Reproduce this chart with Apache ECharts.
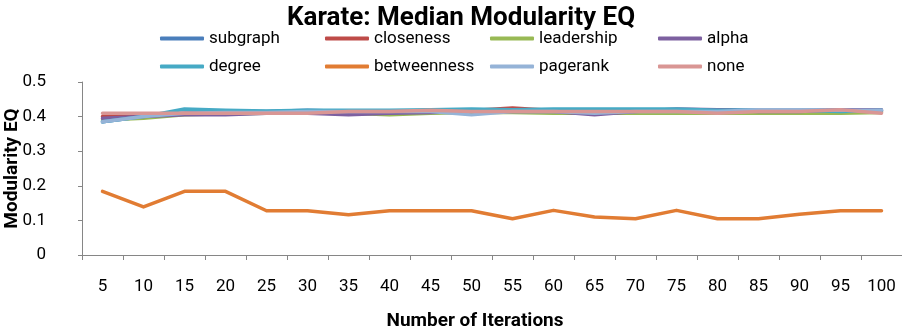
<!DOCTYPE html>
<html>
<head>
<meta charset="utf-8">
<script src="https://cdn.jsdelivr.net/npm/echarts@6/dist/echarts.min.js"></script>
<style>
html, body { margin: 0; padding: 0; background: #fff; }
#chart { width: 902px; height: 329px; }
</style>
</head>
<body>
<div id="chart"></div>
<script>
// 数据
var iterations = ['5', '10', '15', '20', '25', '30', '35', '40', '45', '50', '55', '60', '65', '70', '75', '80', '85', '90', '95', '100'];
var subgraph    = [0.385, 0.400, 0.410, 0.415, 0.415, 0.418, 0.415, 0.415, 0.418, 0.418, 0.418, 0.420, 0.420, 0.420, 0.420, 0.420, 0.418, 0.418, 0.420, 0.418];
var closeness   = [0.400, 0.405, 0.410, 0.410, 0.410, 0.412, 0.415, 0.415, 0.415, 0.418, 0.425, 0.418, 0.415, 0.415, 0.418, 0.418, 0.415, 0.415, 0.418, 0.415];
var leadership  = [0.390, 0.395, 0.405, 0.408, 0.410, 0.410, 0.410, 0.405, 0.410, 0.412, 0.412, 0.410, 0.410, 0.410, 0.410, 0.410, 0.410, 0.410, 0.410, 0.412];
var alpha       = [0.395, 0.400, 0.405, 0.405, 0.410, 0.410, 0.405, 0.410, 0.412, 0.415, 0.415, 0.415, 0.405, 0.415, 0.422, 0.420, 0.415, 0.415, 0.420, 0.420];
var degree      = [0.385, 0.400, 0.422, 0.418, 0.416, 0.418, 0.418, 0.418, 0.420, 0.422, 0.420, 0.422, 0.422, 0.422, 0.422, 0.418, 0.418, 0.418, 0.415, 0.418];
var betweenness = [0.184, 0.139, 0.184, 0.184, 0.128, 0.128, 0.116, 0.128, 0.128, 0.128, 0.105, 0.129, 0.110, 0.105, 0.129, 0.105, 0.105, 0.118, 0.128, 0.128];
var pagerank    = [0.385, 0.400, 0.410, 0.412, 0.412, 0.415, 0.415, 0.415, 0.415, 0.405, 0.415, 0.415, 0.410, 0.415, 0.415, 0.415, 0.420, 0.420, 0.418, 0.418];
var none        = [0.410, 0.410, 0.410, 0.410, 0.410, 0.410, 0.415, 0.415, 0.418, 0.415, 0.415, 0.415, 0.415, 0.415, 0.415, 0.410, 0.415, 0.415, 0.420, 0.410];
var yTicks = [0, 0.1, 0.2, 0.3, 0.4, 0.5];

var names = ['subgraph', 'closeness', 'leadership', 'alpha', 'degree', 'betweenness', 'pagerank', 'none'];
var values = [subgraph, closeness, leadership, alpha, degree, betweenness, pagerank, none];
var colors = ['#4A7EBB', '#BE4B48', '#98B954', '#7D60A0', '#46AAC5', '#E17C33', '#95B3D7', '#D99694'];

var font = "Roboto, 'Noto Sans', sans-serif";
var myChart = echarts.init(document.getElementById('chart'));

var series = [];
for (var i = 0; i < names.length; i++) {
	series.push({
		name: names[i],
		type: 'line',
		data: values[i],
		symbol: 'none',
		smooth: false,
		lineStyle: { width: 3.5, color: colors[i], join: 'round', cap: 'round' },
		itemStyle: { color: colors[i] }
	});
}

// 图例: 两行, 每行四列, 每项单独放置
var legendCols = [160, 325, 490, 658];
var legendRows = [30, 58];
var legends = [];
for (var k = 0; k < names.length; k++) {
	legends.push({
		orient: 'horizontal',
		left: legendCols[k % 4],
		top: legendRows[Math.floor(k / 4)],
		padding: 0,
		data: [names[k]],
		itemWidth: 44,
		itemHeight: 4,
		itemGap: 0,
		icon: 'roundRect',
		textStyle: { fontFamily: font, fontSize: 17, color: '#000' }
	});
}

var option = {
	animation: false,
	color: colors,
	title: {
		text: 'Karate: Median Modularity EQ',
		left: 282,
		top: 0,
		textStyle: { fontFamily: font, fontSize: 26, fontWeight: 'bold', color: '#000' }
	},
	legend: legends,
	grid: { left: 82, right: 0, top: 82, bottom: 74, containLabel: false, outerBoundsMode: 'none' },
	xAxis: {
		type: 'category',
		data: iterations,
		boundaryGap: true,
		name: 'Number of Iterations',
		nameLocation: 'middle',
		nameGap: 57,
		nameMoveOverlap: false,
		nameTextStyle: { fontFamily: font, fontSize: 19, fontWeight: 'bold', color: '#000', padding: [0, 34, 0, 0] },
		axisLine: { lineStyle: { color: '#868686', width: 1 } },
		axisTick: { show: true, length: 5, lineStyle: { color: '#868686' } },
		axisLabel: { fontFamily: font, fontSize: 17, color: '#000', margin: 23 }
	},
	yAxis: {
		type: 'value',
		min: yTicks[0],
		max: yTicks[yTicks.length - 1],
		interval: 0.1,
		name: 'Modularity EQ',
		nameLocation: 'middle',
		nameRotate: 90,
		nameGap: 60,
		nameMoveOverlap: false,
		nameTextStyle: { fontFamily: font, fontSize: 19, fontWeight: 'bold', color: '#000' },
		axisLine: { show: true, lineStyle: { color: '#868686', width: 1 } },
		axisTick: { show: true, length: 4, lineStyle: { color: '#868686' } },
		axisLabel: { fontFamily: font, fontSize: 17, color: '#000', margin: 36 },
		splitLine: { show: false }
	},
	series: series
};
myChart.setOption(option);
</script>
</body>
</html>
